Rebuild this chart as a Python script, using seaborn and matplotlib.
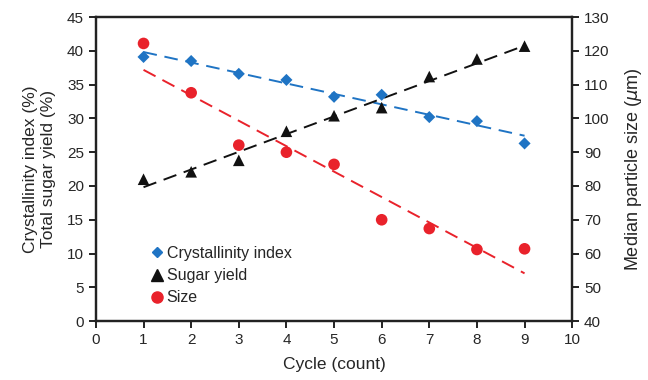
import numpy as np
import pandas as pd
import matplotlib
matplotlib.use("Agg")
import matplotlib.pyplot as plt
import seaborn as sns
from matplotlib.lines import Line2D

cycles = [1, 2, 3, 4, 5, 6, 7, 8, 9]
crystallinity = [39.1, 38.5, 36.6, 35.7, 33.2, 33.5, 30.2, 29.6, 26.3]
sugar_yield = [21.0, 22.1, 23.8, 28.1, 30.4, 31.6, 36.2, 38.8, 40.7]
size_um = [122.2, 107.6, 92.1, 90.0, 86.4, 70.0, 67.4, 61.2, 61.4]

sns.set_theme(style="ticks")
plt.rcParams['font.family'] = ['Liberation Sans', 'DejaVu Sans']
plt.rcParams['mathtext.fontset'] = 'custom'
plt.rcParams['mathtext.it'] = 'DejaVu Sans:italic'
plt.rcParams['mathtext.rm'] = 'Liberation Sans'

df = pd.DataFrame({"cycle": cycles, "cryst": crystallinity,
                   "sugar": sugar_yield, "size": size_um})

blue = "#1f74c4"
red = "#e9222b"
black = "#111111"

fig = plt.figure(figsize=(6.48, 3.80), dpi=100)
ax = fig.add_axes([0.148, 0.155, 0.735, 0.8])
ax2 = ax.twinx()

dash = (7, 4)
sns.regplot(data=df, x="cycle", y="cryst", ax=ax, scatter=False, ci=None,
            color=blue, line_kws=dict(lw=1.4, dashes=dash))
sns.regplot(data=df, x="cycle", y="sugar", ax=ax, scatter=False, ci=None,
            color=black, line_kws=dict(lw=1.4, dashes=dash))
sns.regplot(data=df, x="cycle", y="size", ax=ax2, scatter=False, ci=None,
            color=red, line_kws=dict(lw=1.4, dashes=dash))

sns.scatterplot(data=df, x="cycle", y="cryst", ax=ax, marker="D", s=38,
                color=blue, edgecolor="none", zorder=3)
sns.scatterplot(data=df, x="cycle", y="sugar", ax=ax, marker="^", s=70,
                color=black, edgecolor="none", zorder=3)
sns.scatterplot(data=df, x="cycle", y="size", ax=ax2, marker="o", s=70,
                color=red, edgecolor="none", zorder=3)

ax.set_xlim(0, 10)
ax.set_ylim(0, 45)
ax2.set_ylim(40, 130)
ax.set_xticks(range(0, 11))
ax.set_yticks(range(0, 46, 5))
ax2.set_yticks(range(40, 131, 10))

ax.set_xlabel("Cycle (count)", fontsize=12.5, labelpad=7)
ax.set_ylabel("Crystallinity index (%)\nTotal sugar yield (%)", fontsize=12.5,
              linespacing=1.25, labelpad=8)
ax2.set_ylabel(r"Median particle size ($\mu$m)", fontsize=13, labelpad=10)

for a in (ax, ax2):
    for sp in a.spines.values():
        sp.set_linewidth(1.6)
        sp.set_color("#222222")
    a.tick_params(direction="out", width=1.4, length=5, labelsize=11,
                  color="#222222")

handles = [
    Line2D([], [], marker="D", color=blue, ls="none", markersize=5.5),
    Line2D([], [], marker="^", color=black, ls="none", markersize=8),
    Line2D([], [], marker="o", color=red, ls="none", markersize=8),
]
ax.legend(handles, ["Crystallinity index", "Sugar yield", "Size"],
          loc="lower left", bbox_to_anchor=(0.085, 0.015), frameon=False,
          fontsize=11.5, handletextpad=0.0, labelspacing=0.45,
          handlelength=1.2, borderaxespad=0.3)

fig.savefig("out.png", dpi=100)
